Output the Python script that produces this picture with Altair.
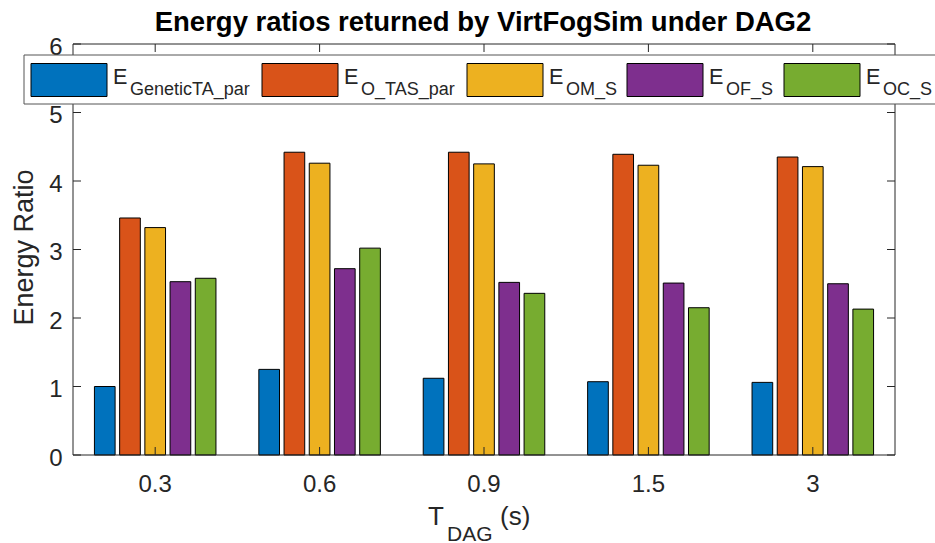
import altair as alt
import pandas as pd

# ---------------- data ----------------
categories = ["0.3", "0.6", "0.9", "1.5", "3"]
series = ["GeneticTA_par", "O_TAS_par", "OM_S", "OF_S", "OC_S"]
E_GeneticTA_par = [1.00, 1.25, 1.12, 1.07, 1.06]
E_O_TAS_par = [3.46, 4.42, 4.42, 4.39, 4.35]
E_OM_S = [3.32, 4.26, 4.25, 4.23, 4.21]
E_OF_S = [2.53, 2.72, 2.52, 2.51, 2.50]
E_OC_S = [2.58, 3.02, 2.36, 2.15, 2.13]
y_ticks = [0, 1, 2, 3, 4, 5, 6]
title_text = "Energy ratios returned by VirtFogSim under DAG2"
y_title = "Energy Ratio"
colors = ["#0072BD", "#D95319", "#EDB120", "#7E2F8E", "#77AC30"]

values = [E_GeneticTA_par, E_O_TAS_par, E_OM_S, E_OF_S, E_OC_S]
rows = []
for s, vals in zip(series, values):
    for c, v in zip(categories, vals):
        rows.append({"T": c, "S": s, "v": v})
df = pd.DataFrame(rows)

# ---------------- layout ----------------
W, H = 822, 411
FONT = "Liberation Sans"
AXC = "#262626"

xscale = alt.Scale(domain=categories, paddingInner=0, paddingOuter=0)
yscale = alt.Scale(domain=[0, 6], nice=False, zero=True)

xaxis = alt.Axis(title=None, domain=False, ticks=False, tickSize=0, labelAngle=0,
                 labelFontSize=24, labelFont=FONT, labelColor=AXC, labelPadding=17,
                 grid=False)
yaxis = alt.Axis(title=None, values=y_ticks, domain=False, ticks=False, tickSize=0,
                 labelFontSize=24, labelFont=FONT, labelColor=AXC, labelPadding=11,
                 labelOffset=3, grid=False)

bars = alt.Chart(df).mark_bar(stroke="black", strokeWidth=1).encode(
    x=alt.X("T:N", scale=xscale, sort=categories, axis=xaxis),
    xOffset=alt.XOffset("S:N", sort=series,
                        scale=alt.Scale(domain=series, paddingInner=0.18, paddingOuter=0.85)),
    y=alt.Y("v:Q", scale=yscale, axis=yaxis),
    color=alt.Color("S:N", scale=alt.Scale(domain=series, range=colors), legend=None),
)

ydf = pd.DataFrame({"v": y_ticks})
cdf = pd.DataFrame({"T": categories})
one = pd.DataFrame({"v": [0]})

left_ticks = alt.Chart(ydf).mark_rule(color=AXC, strokeWidth=1).encode(
    y=alt.Y("v:Q", scale=yscale, axis=yaxis), x=alt.value(0), x2=alt.value(8))
right_ticks = alt.Chart(ydf).mark_rule(color=AXC, strokeWidth=1).encode(
    y=alt.Y("v:Q", scale=yscale, axis=yaxis), x=alt.value(W - 8), x2=alt.value(W))
bottom_ticks = alt.Chart(cdf).mark_rule(color=AXC, strokeWidth=1).encode(
    x=alt.X("T:N", scale=xscale, sort=categories, axis=xaxis), y=alt.value(H - 8), y2=alt.value(H))
top_ticks = alt.Chart(cdf).mark_rule(color=AXC, strokeWidth=1).encode(
    x=alt.X("T:N", scale=xscale, sort=categories, axis=xaxis), y=alt.value(0), y2=alt.value(8))

frame = [
    alt.Chart(one).mark_rule(color=AXC, strokeWidth=1).encode(x=alt.value(0), x2=alt.value(W), y=alt.value(0)),
    alt.Chart(one).mark_rule(color=AXC, strokeWidth=1).encode(x=alt.value(0), x2=alt.value(W), y=alt.value(H)),
    alt.Chart(one).mark_rule(color=AXC, strokeWidth=1).encode(x=alt.value(0), y=alt.value(0), y2=alt.value(H)),
    alt.Chart(one).mark_rule(color=AXC, strokeWidth=1).encode(x=alt.value(W), y=alt.value(0), y2=alt.value(H)),
]

# title
title = alt.Chart(pd.DataFrame({"t": [title_text]})).mark_text(
    font=FONT, fontSize=27.5, fontWeight="bold", color="black", align="center", baseline="alphabetic"
).encode(text="t:N", x=alt.value(410), y=alt.value(-13))

# y axis title
ytitle = alt.Chart(pd.DataFrame({"t": [y_title]})).mark_text(
    font=FONT, fontSize=27, color=AXC, align="center", baseline="alphabetic", angle=270
).encode(text="t:N", x=alt.value(-40), y=alt.value(H / 2 - 2))

# x axis title with subscript
xt_main = alt.Chart(pd.DataFrame({"t": ["T"]})).mark_text(
    font=FONT, fontSize=26, color=AXC, align="left", baseline="alphabetic"
).encode(text="t:N", x=alt.value(355), y=alt.value(481))
xt_sub = alt.Chart(pd.DataFrame({"t": ["DAG"]})).mark_text(
    font=FONT, fontSize=21, color=AXC, align="left", baseline="alphabetic"
).encode(text="t:N", x=alt.value(374), y=alt.value(496.5))
xt_unit = alt.Chart(pd.DataFrame({"t": ["(s)"]})).mark_text(
    font=FONT, fontSize=26, color=AXC, align="left", baseline="alphabetic"
).encode(text="t:N", x=alt.value(427), y=alt.value(481))

# legend (custom, for subscripts)
legend_layers = [
    alt.Chart(one).mark_rect(fill="white", stroke="#555555", strokeWidth=1).encode(
        x=alt.value(-49), x2=alt.value(W + 80), y=alt.value(11), y2=alt.value(60))
]
sw_x = [-42, 189, 394, 554, 711]
for i, s in enumerate(series):
    legend_layers.append(
        alt.Chart(one).mark_rect(fill=colors[i], stroke="black", strokeWidth=1).encode(
            x=alt.value(sw_x[i]), x2=alt.value(sw_x[i] + 76), y=alt.value(19.5), y2=alt.value(52.5)))
    legend_layers.append(
        alt.Chart(pd.DataFrame({"t": ["E"]})).mark_text(
            font=FONT, fontSize=21.6, color=AXC, align="left", baseline="alphabetic"
        ).encode(text="t:N", x=alt.value(sw_x[i] + 82), y=alt.value(39.5)))
    legend_layers.append(
        alt.Chart(pd.DataFrame({"t": [s]})).mark_text(
            font=FONT, fontSize=18, color=AXC, align="left", baseline="alphabetic"
        ).encode(text="t:N", x=alt.value(sw_x[i] + 99), y=alt.value(51)))

chart = alt.layer(
    bars, left_ticks, right_ticks, bottom_ticks, top_ticks, *frame,
    title, ytitle, xt_main, xt_sub, xt_unit, *legend_layers
).properties(
    width=W, height=H,
    autosize=alt.AutoSizeParams(type="none"),
    padding={"left": 73, "top": 44, "right": 40, "bottom": 88},
    background="white",
).configure_view(stroke=None)

chart.save("out.html", embed_options={"renderer": "svg", "actions": False})
